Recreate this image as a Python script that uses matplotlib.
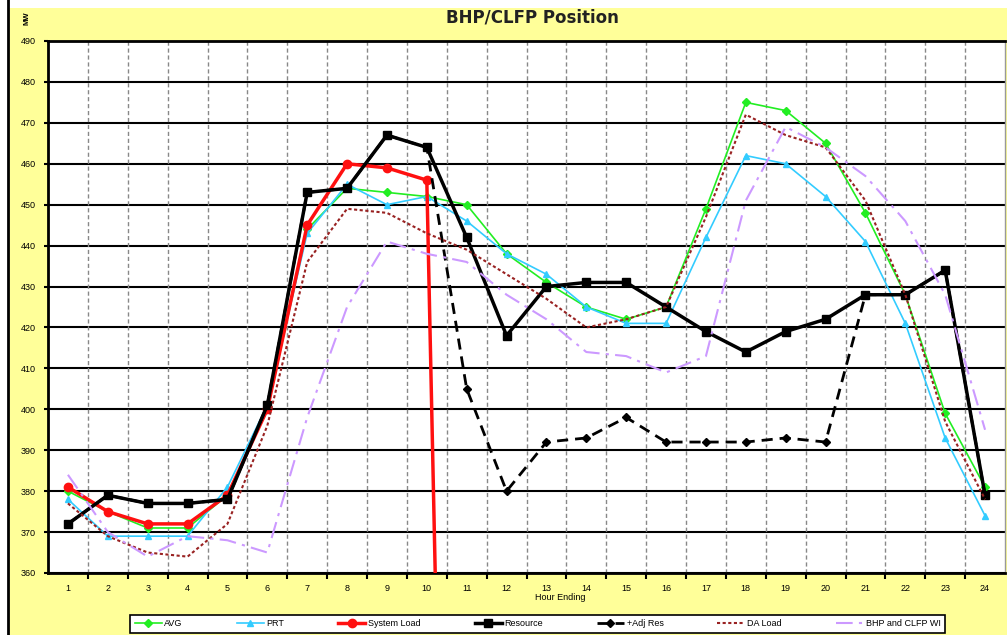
import matplotlib
matplotlib.use("Agg")
import matplotlib.pyplot as plt
from matplotlib.patches import Rectangle
from matplotlib.lines import Line2D

hours = list(range(1, 25))
hour_labels = [str(h) for h in hours]

avg = [380, 375, 371, 371, 379, 400, 444, 454, 453, 452, 450, 438,
       431, 425, 422, 425, 449, 475, 473, 465, 448, 428, 399, 381]
prt = [378, 369, 369, 369, 381, 401, 443, 455, 450, 452, 446, 438,
       433, 425, 421, 421, 442, 462, 460, 452, 441, 421, 393, 374]
system_load = [381, 375, 372, 372, 379, 400, 445, 460, 459, 456, 0, 0,
               0, 0, 0, 0, 0, 0, 0, 0, 0, 0, 0, 0]
resource = [372, 379, 377, 377, 378, 401, 453, 454, 467, 464, 442, 418,
            430, 431, 431, 425, 419, 414, 419, 422, 428, 428, 434, 379]
adj_res = [372, 379, 377, 377, 378, 401, 453, 454, 467, 464, 405, 380,
           392, 393, 398, 392, 392, 392, 393, 392, 428, 428, 434, 379]
da_load = [377, 369, 365, 364, 372, 396, 436, 449, 448, 443, 439, 433,
           427, 420, 422, 425, 447, 472, 467, 464, 451, 428, 397, 378]
bhp_clfp_wi = [384, 370, 364, 369, 368, 365, 398, 425, 441, 438, 436, 428,
               422, 414, 413, 409, 413, 451, 469, 464, 457, 446, 428, 395]

yticks = list(range(360, 491, 10))

W, H = 1007, 635
fig = plt.figure(figsize=(W / 100, H / 100), dpi=100, facecolor="white")

# yellow background panel and left border line
fig.patches.append(Rectangle((9 / W, 0), 1, (H - 8) / H, transform=fig.transFigure,
                             facecolor="#FFFF99", edgecolor="none", zorder=-10))
fig.add_artist(Line2D([8 / W, 8 / W], [0, 1], transform=fig.transFigure,
                      color="black", lw=2))

ax = fig.add_axes([48 / W, (H - 573) / H, (1005 - 48) / W, (573 - 41) / H])
ax.set_facecolor("white")

ax.plot(hours, avg, color="#22EE22", lw=1.2, marker="D", ms=4, label="AVG", zorder=3)
ax.plot(hours, prt, color="#33CCFF", lw=1.2, marker="^", ms=5, label="PRT", zorder=3)
ax.plot(hours, system_load, color="#FF1010", lw=2.5, marker="o", ms=6,
        label="System Load", zorder=4)
ax.plot(hours, resource, color="black", lw=2.5, marker="s", ms=6,
        label="Resource", zorder=5)
ax.plot(hours, adj_res, color="black", lw=2.0, ls=(0, (4, 2.5)), marker="D", ms=4,
        label="+Adj Res", zorder=5)
ax.plot(hours, da_load, color="#992222", lw=1.5, ls=(0, (1.5, 1.2)),
        label="DA Load", zorder=6)
ax.plot(hours, bhp_clfp_wi, color="#CC99FF", lw=1.5, ls=(0, (8, 3, 1.5, 3)),
        label="BHP and CLFP WI", zorder=6)

ax.set_xlim(0.5, 24.5)
ax.set_ylim(360, 490)
ax.set_yticks(yticks)
ax.set_yticklabels([str(v) for v in yticks])
ax.set_xticks(hours)
ax.set_xticklabels(hour_labels)
ax.set_xticks([h + 0.5 for h in hours[:-1]], minor=True)

for y in yticks:
    ax.axhline(y, color="black", lw=1.5, zorder=1)
for x in [h + 0.5 for h in hours[:-1]]:
    ax.axvline(x, color="#888888", lw=1.0, ls=(0, (3, 2)), zorder=1)

ax.tick_params(axis="x", which="major", length=0, pad=8, labelsize=6.5)
ax.tick_params(axis="x", which="minor", length=4, width=1.5, direction="out")
ax.tick_params(axis="y", length=3, width=1.5, pad=6, labelsize=6.5)
for lab in ax.get_xticklabels() + ax.get_yticklabels():
    lab.set_fontfamily("Liberation Sans")

for side in ("left", "bottom", "top"):
    ax.spines[side].set_linewidth(2)
    ax.spines[side].set_color("black")
ax.spines["right"].set_color("#999999")
ax.spines["right"].set_linewidth(1)

fig.text(532 / W, 1 - 17 / H, "BHP/CLFP Position", ha="center", va="center",
         fontsize=12, fontweight="bold", color="#222222")
fig.text(27 / W, 1 - 18 / H, "MW", ha="center", va="center", rotation=90,
         fontsize=5.5, fontweight="bold", family="Liberation Sans")
fig.text(560 / W, 1 - 598 / H, "Hour Ending", ha="center", va="center",
         fontsize=6.5, family="Liberation Sans")

handles, labels = ax.get_legend_handles_labels()
leg = fig.legend(handles, labels, loc="lower left", ncol=7, mode="expand",
                 bbox_to_anchor=(130 / W, 2 / H, 815 / W, 24 / H),
                 prop={"family": "Liberation Sans", "size": 6.5},
                 frameon=True, fancybox=False, handlelength=3.0,
                 handletextpad=0.3, borderaxespad=0, borderpad=0.5)
leg.get_frame().set_edgecolor("black")
leg.get_frame().set_linewidth(1.2)
leg.get_frame().set_facecolor("white")
leg.get_frame().set_alpha(1)

fig.savefig("out.png", dpi=100, facecolor=fig.get_facecolor())
